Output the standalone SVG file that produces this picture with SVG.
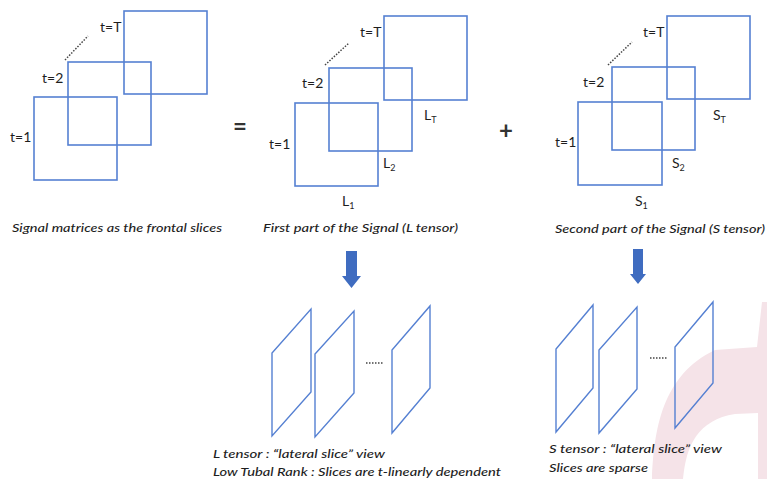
<svg xmlns="http://www.w3.org/2000/svg" width="767" height="479" viewBox="0 0 767 479">
<defs>
<style>
.box{fill:none;stroke:#5580d2;stroke-width:1.6}
.sl{fill:none;stroke:#5580d2;stroke-width:1.4;stroke-linejoin:miter}
.lab{font-family:Lato,"Liberation Sans",sans-serif;font-size:14px;fill:#1e1e1e}
.sub{font-size:9px}
.cap{font-family:Lato,"Liberation Sans",sans-serif;font-size:12px;font-style:italic;font-weight:500;fill:#1e1e1e}
.dot{stroke:#444;stroke-width:1.5;stroke-dasharray:1.5 1.5;fill:none}
.arr{fill:#3f6cc0}
.op{font-family:Lato,"Liberation Sans",sans-serif;font-size:24px;font-weight:bold;fill:#333}
</style>
<linearGradient id="ag" x1="0" x2="1" y1="0" y2="0">
<stop offset="0" stop-color="#3461b3"/><stop offset="0.5" stop-color="#4a7bd2"/><stop offset="1" stop-color="#3461b3"/>
</linearGradient>
</defs>
<rect width="767" height="479" fill="#fff"/>
<g id="watermark">
<path d="M762 302 L767 302 L767 479 L652 479 C654 430 662 375 715 350 L757 347 Z" fill="#f5e3e8"/>
<path d="M683 479 C686 445 698 420 735 414 L758 413 L758 479 Z" fill="#fff"/>
</g>
<g id="signal">
<rect class="box" x="124" y="11" width="83" height="83"/>
<rect class="box" x="68" y="62" width="83" height="83"/>
<rect class="box" x="34" y="97" width="83" height="83"/>
<line class="dot" x1="65" y1="60" x2="88" y2="36"/>
<text class="lab" x="100" y="32">t=T</text>
<text class="lab" x="42" y="83">t=2</text>
<text class="lab" x="10" y="142">t=1</text>
<text class="cap" x="12" y="232" textLength="210" lengthAdjust="spacingAndGlyphs">Signal matrices as the frontal slices</text>
</g>
<g id="equals"><text class="op" x="240" y="135" text-anchor="middle">=</text></g>
<g id="ltensor">
<rect class="box" x="384" y="16" width="83" height="84"/>
<rect class="box" x="329" y="68" width="83" height="83"/>
<rect class="box" x="295" y="103" width="83" height="83"/>
<line class="dot" x1="325" y1="65" x2="349" y2="43"/>
<text class="lab" x="360" y="37">t=T</text>
<text class="lab" x="302" y="88">t=2</text>
<text class="lab" x="269" y="149">t=1</text>
<text class="lab" x="424" y="120">L<tspan class="sub" dy="3">T</tspan></text>
<text class="lab" x="383" y="168">L<tspan class="sub" dy="3">2</tspan></text>
<text class="lab" x="342" y="206">L<tspan class="sub" dy="3">1</tspan></text>
<text class="cap" x="263" y="232" textLength="195" lengthAdjust="spacingAndGlyphs">First part of the Signal (L tensor)</text>
</g>
<g id="plus"><text class="op" x="506" y="139" text-anchor="middle">+</text></g>
<g id="stensor">
<rect class="box" x="667" y="16" width="83" height="83"/>
<rect class="box" x="612" y="67" width="83" height="83"/>
<rect class="box" x="578" y="102" width="84" height="83"/>
<line class="dot" x1="608" y1="65" x2="632" y2="42"/>
<text class="lab" x="643" y="37">t=T</text>
<text class="lab" x="583" y="87">t=2</text>
<text class="lab" x="555" y="147">t=1</text>
<text class="lab" x="713" y="120">S<tspan class="sub" dy="3">T</tspan></text>
<text class="lab" x="672" y="168">S<tspan class="sub" dy="3">2</tspan></text>
<text class="lab" x="635" y="206">S<tspan class="sub" dy="3">1</tspan></text>
<text class="cap" x="555" y="233" textLength="210" lengthAdjust="spacingAndGlyphs">Second part of the Signal (S tensor)</text>
</g>
<g id="connectors">
<path class="arr" fill="url(#ag)" d="M346 251 L357 251 L357 276 L361 276 L351.5 288 L342 276 L346 276 Z"/>
<path class="arr" fill="url(#ag)" d="M633 249 L643 249 L643 274 L646 274 L638 284 L630 274 L633 274 Z"/>
</g>
<g id="lslices">
<polygon class="sl" points="311,309 311,392 272,436 272,353"/>
<polygon class="sl" points="354,311 354,393 315,437 315,354"/>
<line class="dot" x1="366" y1="363" x2="384" y2="363" stroke-width="1.2" stroke-dasharray="1.5 2"/>
<polygon class="sl" points="430,306 430,388 392,433 392,350"/>
<text class="cap" x="213" y="458" textLength="172" lengthAdjust="spacingAndGlyphs">L tensor : “lateral slice” view</text>
<text class="cap" x="213" y="476" textLength="288" lengthAdjust="spacingAndGlyphs">Low Tubal Rank : Slices are t-linearly dependent</text>
</g>
<g id="sslices">
<polygon class="sl" points="593,305 593,388 556,432 556,349"/>
<polygon class="sl" points="637,307 637,389 599,433 599,350"/>
<line class="dot" x1="650" y1="358" x2="668" y2="358" stroke-width="1.2" stroke-dasharray="1.5 2"/>
<polygon class="sl" points="713,302 713,383 675,428 675,347"/>
<text class="cap" x="549" y="453" textLength="173" lengthAdjust="spacingAndGlyphs">S tensor : “lateral slice” view</text>
<text class="cap" x="549" y="472" textLength="99" lengthAdjust="spacingAndGlyphs">Slices are sparse</text>
</g>
</svg>
